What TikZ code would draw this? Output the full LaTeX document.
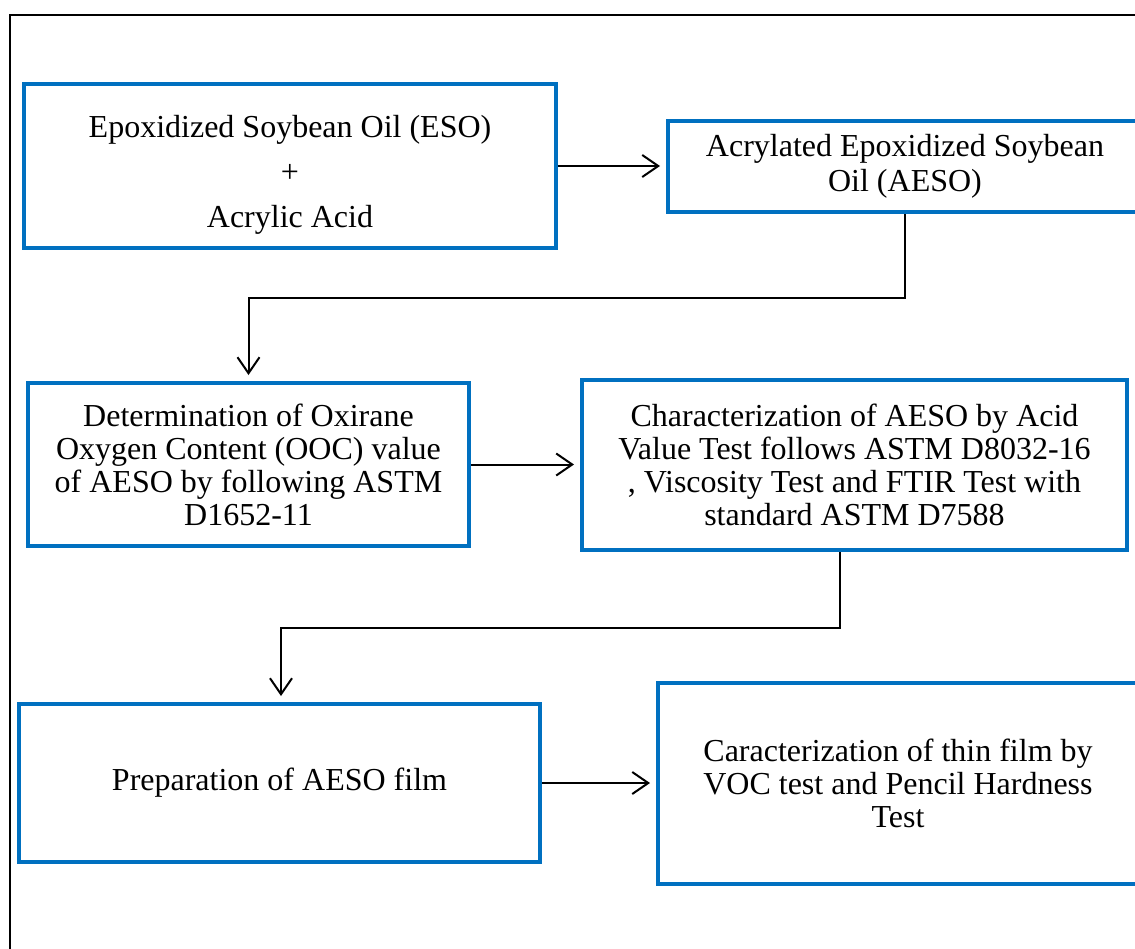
\documentclass[tikz,border=0pt]{standalone}
\usepackage{fontspec}
\setmainfont{Liberation Serif}
\usetikzlibrary{arrows.meta}
\definecolor{boxblue}{HTML}{0070C0}
\begin{document}
\begin{tikzpicture}[x=1pt,y=-1pt,
  procbox/.style={draw=boxblue, line width=4pt, fill=white, inner sep=0pt, align=center, font=\fontsize{32}{33}\selectfont},
  arr/.style={draw=black, line width=2pt, -{Straight Barb[length=16pt,width=22pt,line width=2pt]}, shorten >=6pt},
]
\useasboundingbox (0,0) rectangle (1135,948);
\begin{scope}
\clip (0,0) rectangle (1135,948);
\draw[line width=2pt] (9.5,15) rectangle (1200,1000);
\node[procbox, minimum width=532pt, minimum height=164pt] (b1) at (290,166)
  {\rule{0pt}{40pt}Epoxidized Soybean Oil (ESO)\\[12pt]+\\[12pt]Acrylic Acid};
\node[procbox, minimum width=474pt, minimum height=91pt] (b2) at (905,166.5)
  {Acrylated Epoxidized Soybean\\[2pt]Oil (AESO)};
\node[procbox, minimum width=441pt, minimum height=163pt] (b3) at (248.5,464.5)
  {Determination of Oxirane\\Oxygen Content (OOC) value\\of AESO by following ASTM\\D1652-11};
\node[procbox, minimum width=545pt, minimum height=170pt] (b4) at (854.5,465)
  {Characterization of AESO by Acid\\Value Test follows ASTM D8032-16\\, Viscosity Test and FTIR Test with\\standard ASTM D7588};
\node[procbox, minimum width=521pt, minimum height=158pt] (b5) at (279.5,783)
  {Preparation of AESO film};
\node[procbox, minimum width=480pt, minimum height=201pt] (b6) at (898,783.5)
  {Caracterization of thin film by\\VOC test and Pencil Hardness\\Test};
\coordinate (m1) at (248.5,298);
\coordinate (c2a) at (840,628);
\coordinate (c2b) at (281,628);
\draw[arr] (b1.east) -- (b1.east -| b2.west);
\draw[arr] (b3.east) -- (b3.east -| b4.west);
\draw[arr] (b5.east) -- (b5.east -| b6.west);
\draw[arr] (b2.south) |- (m1) -- (b3.north);
\draw[arr] (b4.south -| c2a) -- (c2a) -- (c2b) -- (b5.north -| c2b);
\end{scope}
\end{tikzpicture}
\end{document}
